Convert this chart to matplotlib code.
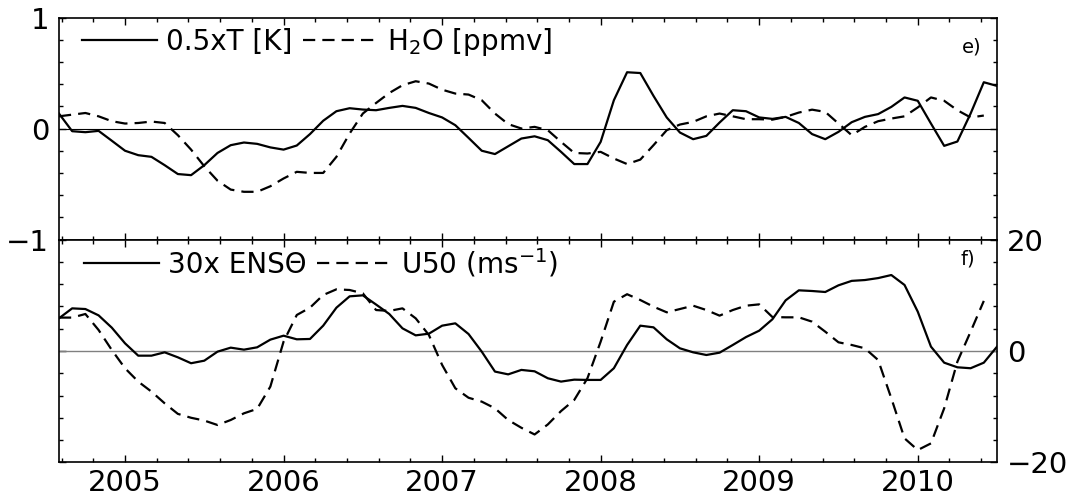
import numpy as np
import matplotlib
matplotlib.use('Agg')
import matplotlib.pyplot as plt
from matplotlib.lines import Line2D
from matplotlib.ticker import MultipleLocator, FixedLocator

# monthly series, first value is August 2004
start_year = 2004
start_month = 8

temp_k = [0.135, -0.024, -0.033, -0.021, -0.11, -0.20, -0.24, -0.255, -0.33, -0.41, -0.42, -0.33,
          -0.22, -0.15, -0.126, -0.138, -0.17, -0.19, -0.153, -0.05, 0.07, 0.156, 0.183, 0.171,
          0.165, 0.186, 0.204, 0.186, 0.14, 0.10, 0.03, -0.084, -0.20, -0.23, -0.16, -0.09,
          -0.07, -0.105, -0.21, -0.32, -0.32, -0.12, 0.255, 0.507, 0.50, 0.294, 0.10, -0.036,
          -0.096, -0.066, 0.054, 0.165, 0.156, 0.10, 0.087, 0.105, 0.05, -0.05, -0.096, -0.03,
          0.057, 0.105, 0.13, 0.195, 0.28, 0.25, 0.045, -0.156, -0.117, 0.135, 0.417, 0.384]

h2o_ppmv = [0.11, 0.125, 0.14, 0.11, 0.066, 0.045, 0.05, 0.063, 0.05, -0.06, -0.19, -0.34,
            -0.47, -0.55, -0.57, -0.57, -0.52, -0.45, -0.39, -0.40, -0.40, -0.255, -0.045, 0.135,
            0.23, 0.32, 0.39, 0.426, 0.405, 0.35, 0.315, 0.306, 0.255, 0.135, 0.04, 0.0,
            0.015, -0.015, -0.12, -0.22, -0.225, -0.21, -0.27, -0.32, -0.28, -0.15, -0.015, 0.036,
            0.06, 0.11, 0.135, 0.11, 0.084, 0.084, 0.08, 0.105, 0.144, 0.17, 0.15, 0.045,
            -0.06, 0.015, 0.066, 0.09, 0.11, 0.19, 0.28, 0.25, 0.165, 0.10, 0.117]

enso_30x = [5.87, 7.66, 7.54, 6.4, 4.19, 1.38, -0.84, -0.84, -0.24, -1.14, -2.2, -1.74,
            -0.12, 0.6, 0.24, 0.66, 2.04, 2.75, 2.1, 2.16, 4.55, 7.78, 9.82, 10.0,
            8.35, 6.65, 4.07, 2.81, 3.11, 4.55, 4.97, 3.05, -0.12, -3.7, -4.2, -3.4,
            -3.65, -4.9, -5.5, -5.15, -5.2, -5.2, -3.1, 1.08, 4.55, 4.25, 2.1, 0.48,
            -0.24, -0.72, -0.3, 1.08, 2.5, 3.65, 5.7, 9.1, 10.9, 10.78, 10.6, 11.8,
            12.6, 12.75, 13.1, 13.65, 11.86, 7.07, 0.78, -2.1, -2.93, -3.1, -2.1, 0.78]

u50 = [6.0, 6.0, 6.65, 3.77, 0.18, -3.1, -5.5, -7.3, -9.4, -11.3, -12.0, -12.5,
       -13.3, -12.4, -11.2, -10.4, -6.4, 1.68, 6.47, 7.78, 10.06, 11.08, 10.96, 10.36,
       7.36, 7.2, 7.66, 5.87, 2.87, -2.5, -6.7, -8.4, -9.1, -10.3, -12.4, -13.8,
       -15.0, -13.2, -10.8, -8.8, -4.9, 1.68, 8.86, 10.2, 9.16, 7.96, 6.95, 7.54,
       8.14, 7.36, 6.35, 7.36, 8.14, 8.38, 6.1, 6.05, 6.05, 5.27, 3.47, 1.56,
       1.08, 0.48, -1.62, -8.5, -15.7, -17.8, -16.6, -10.3, -1.92, 3.47, 9.0]

year_ticks = [2005, 2006, 2007, 2008, 2009, 2010]
top_labels = ['0.5xT [K]', 'H$_2$O [ppmv]']
bottom_labels = ['30x ENS\u0398', 'U50 (ms$^{-1}$)']


def decimal_time(n):
    return start_year + (start_month - 1 + np.arange(n)) / 12.0


def style_axes(ax, ymajor, yminor):
    ax.set_xlim(start_year + (start_month - 1) / 12.0, 2010.5)
    ax.xaxis.set_major_locator(FixedLocator(year_ticks))
    ax.xaxis.set_minor_locator(MultipleLocator(0.2))
    ax.yaxis.set_major_locator(FixedLocator(ymajor))
    ax.yaxis.set_minor_locator(MultipleLocator(yminor))
    ax.tick_params(which='both', direction='in', top=True, right=True, width=1.0, labelsize=21)
    ax.tick_params(which='major', length=5)
    ax.tick_params(which='minor', length=3)
    for spine in ax.spines.values():
        spine.set_linewidth(1.2)


plt.rcParams['font.family'] = ['DejaVu Sans']
fig = plt.figure(figsize=(10.7, 4.98), dpi=100)
ax1 = fig.add_axes([0.0551, 0.519, 0.8767, 0.4458])
ax2 = fig.add_axes([0.0551, 0.0717, 0.8767, 0.447])

lw = 1.6
dash = (5.5, 3.2)

# e) temperature and water vapour
ax1.axhline(0, color='black', lw=0.8)
ax1.plot(decimal_time(len(temp_k)), temp_k, color='black', lw=lw)
ax1.plot(decimal_time(len(h2o_ppmv)), h2o_ppmv, color='black', lw=lw, dashes=dash)
ax1.set_ylim(-1, 1)
style_axes(ax1, [-1, 0, 1], 0.2)
ax1.tick_params(labelbottom=False, pad=7)
ax1.set_yticklabels(['\u22121', '0', '1'])
ax1.text(0.973, 0.868, 'e)', transform=ax1.transAxes, ha='center', va='center', fontsize=14)
h1 = [Line2D([], [], color='black', lw=lw), Line2D([], [], color='black', lw=lw, dashes=dash)]
ax1.legend(h1, top_labels, ncol=2, loc='center left', bbox_to_anchor=(0.025, 0.889),
           frameon=False, borderpad=0, borderaxespad=0, handlelength=2.7,
           handletextpad=0.3, columnspacing=0.4, fontsize=20)

# f) ENSO index and 50 hPa wind
ax2.axhline(0, color='#808080', lw=1.0)
ax2.plot(decimal_time(len(enso_30x)), enso_30x, color='black', lw=lw)
ax2.plot(decimal_time(len(u50)), u50, color='black', lw=lw, dashes=dash)
ax2.set_ylim(-20, 20)
style_axes(ax2, [-20, 0, 20], 4)
ax2.tick_params(axis='y', labelleft=False, labelright=True, pad=7)
ax2.tick_params(axis='x', pad=5)
ax2.set_yticklabels(['\u221220', '0', '20'])
ax2.set_xticklabels([str(y) for y in year_ticks])
ax2.text(0.969, 0.913, 'f)', transform=ax2.transAxes, ha='center', va='center', fontsize=14)
h2 = [Line2D([], [], color='black', lw=lw), Line2D([], [], color='black', lw=lw, dashes=dash)]
ax2.legend(h2, bottom_labels, ncol=2, loc='center left', bbox_to_anchor=(0.027, 0.897),
           frameon=False, borderpad=0, borderaxespad=0, handlelength=2.7,
           handletextpad=0.3, columnspacing=0.4, fontsize=20)

fig.savefig('out.png', dpi=100)
